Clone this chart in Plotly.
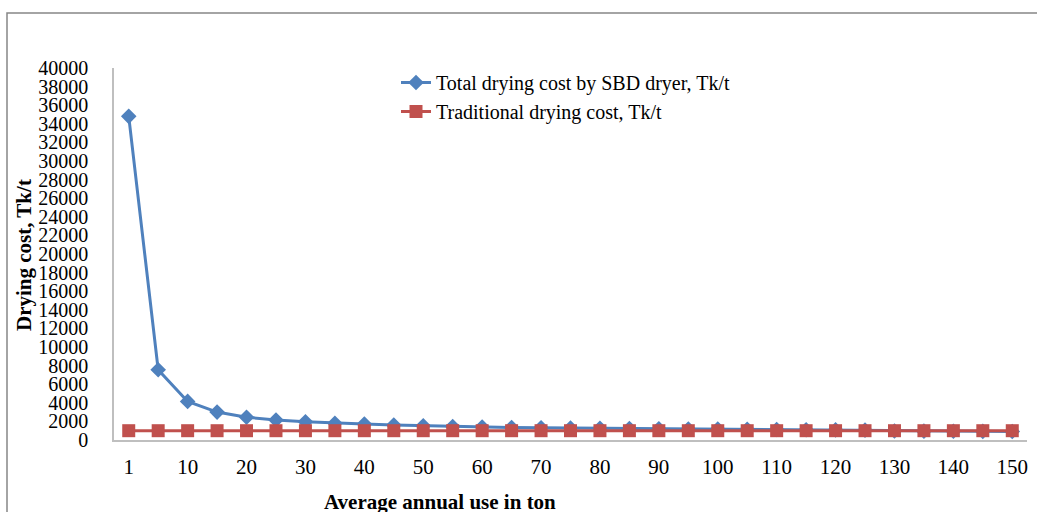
import plotly.graph_objects as go

# Data
annual_use = ["1", "5", "10", "15", "20", "25", "30", "35", "40", "45", "50", "55",
              "60", "65", "70", "75", "80", "85", "90", "95", "100", "105", "110",
              "115", "120", "125", "130", "135", "140", "145", "150"]
sbd_cost = [34800, 7550, 4150, 3000, 2450, 2150, 1950, 1800, 1720, 1600, 1520, 1450,
            1400, 1350, 1320, 1290, 1260, 1240, 1210, 1190, 1170, 1150, 1130,
            1110, 1090, 1060, 960, 950, 940, 930, 920]
traditional_cost = [1000] * 31  # constant traditional cost
x_tick_labels = ["1", "10", "20", "30", "40", "50", "60", "70", "80", "90", "100",
                 "110", "120", "130", "140", "150"]

FONT = "Liberation Serif"
W, H = 1037, 512
L, R, T, B = 114, 10, 68, 72
pw, ph = W - L - R, H - T - B

def px_x(x):
    return (x - L) / pw

def px_y(y):
    return (H - B - y) / ph

fig = go.Figure()
fig.add_trace(go.Scatter(
    x=annual_use, y=sbd_cost, mode="lines+markers",
    name="Total drying cost by SBD dryer, Tk/t",
    line=dict(color="#4F81BD", width=3),
    marker=dict(symbol="diamond", size=12, color="#4F81BD"),
))
fig.add_trace(go.Scatter(
    x=annual_use, y=traditional_cost, mode="lines+markers",
    name="Traditional drying cost, Tk/t",
    line=dict(color="#C0504D", width=3),
    marker=dict(symbol="square", size=13, color="#C0504D"),
))

fig.update_layout(
    width=W, height=H,
    margin=dict(l=L, r=R, t=T, b=B, pad=0),
    paper_bgcolor="white", plot_bgcolor="white",
    font=dict(family=FONT, size=21, color="black"),
    showlegend=True,
    legend=dict(x=px_x(396), y=px_y(63), xanchor="left", yanchor="top",
                bgcolor="rgba(0,0,0,0)", font=dict(family=FONT, size=20),
                itemwidth=30, tracegroupgap=0),
    xaxis=dict(type="category", range=[-0.5, 30.5], tickmode="array",
               tickvals=x_tick_labels, ticktext=x_tick_labels,
               showgrid=False, zeroline=False, showline=True,
               linecolor="#BFBFBF", linewidth=1.5, ticks="",
               ticklabelstandoff=7,
               tickfont=dict(family=FONT, size=21)),
    yaxis=dict(range=[0, 40000], dtick=2000, tick0=0, tickformat="d",
               showgrid=False, zeroline=False, showline=True,
               linecolor="#BFBFBF", linewidth=1.5, ticks="",
               ticklabelstandoff=20,
               tickfont=dict(family=FONT, size=20)),
    annotations=[
        dict(text="<b>Drying cost, Tk/t</b>", xref="paper", yref="paper",
             x=px_x(24), y=px_y(255), textangle=-90, showarrow=False,
             xanchor="center", yanchor="middle",
             font=dict(family=FONT, size=21)),
        dict(text="<b>Average annual use in ton</b>", xref="paper", yref="paper",
             x=px_x(440), y=px_y(502), showarrow=False,
             xanchor="center", yanchor="middle",
             font=dict(family=FONT, size=21)),
    ],
    shapes=[
        dict(type="rect", xref="paper", yref="paper",
             x0=px_x(7), x1=px_x(1045), y0=px_y(520), y1=px_y(13),
             line=dict(color="#868686", width=1.5), fillcolor="rgba(0,0,0,0)",
             layer="below"),
    ],
)

fig.write_html("out.html")
